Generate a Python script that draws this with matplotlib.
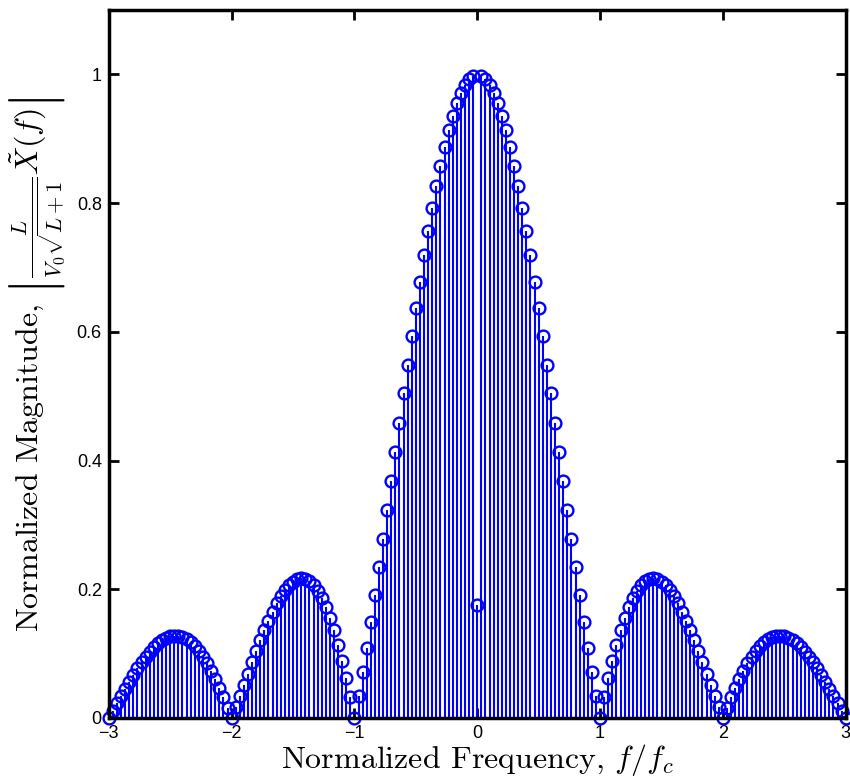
import numpy as np
import matplotlib
matplotlib.use("Agg")
import matplotlib.pyplot as plt

plt.rcParams['font.family'] = ['Liberation Sans', 'DejaVu Sans']
plt.rcParams['mathtext.fontset'] = 'cm'

# eje de frecuencia normalizada, muestras cada 1/30
freq = np.linspace(-3, 3, 181)

# magnitud normalizada de -3 a 0 (sin incluir 0)
mag_neg = [0.000, 0.011, 0.023, 0.034, 0.045, 0.056, 0.067, 0.077, 0.087, 0.095,
           0.103, 0.110, 0.116, 0.121, 0.125, 0.127, 0.128, 0.128, 0.126, 0.123,
           0.118, 0.112, 0.104, 0.095, 0.085, 0.073, 0.061, 0.047, 0.032, 0.016,
           0.000, 0.017, 0.034, 0.052, 0.069, 0.087, 0.104, 0.121, 0.136, 0.151,
           0.165, 0.178, 0.189, 0.199, 0.206, 0.212, 0.216, 0.217, 0.216, 0.213,
           0.207, 0.198, 0.187, 0.173, 0.156, 0.136, 0.114, 0.089, 0.062, 0.032,
           0.000, 0.034, 0.071, 0.109, 0.149, 0.191, 0.234, 0.278, 0.323, 0.368,
           0.413, 0.459, 0.505, 0.549, 0.594, 0.637, 0.678, 0.719, 0.757, 0.793,
           0.827, 0.858, 0.887, 0.913, 0.935, 0.955, 0.971, 0.984, 0.993, 0.998]
# muestra en f = 0
mag_cero = [0.175]
# magnitud de 0 a 3 (sin incluir 0)
mag_pos = [0.998, 0.993, 0.984, 0.971, 0.955, 0.935, 0.913, 0.887, 0.858, 0.827,
           0.793, 0.757, 0.719, 0.678, 0.637, 0.594, 0.549, 0.505, 0.459, 0.413,
           0.368, 0.323, 0.278, 0.234, 0.191, 0.149, 0.109, 0.071, 0.034, 0.000,
           0.032, 0.062, 0.089, 0.114, 0.136, 0.156, 0.173, 0.187, 0.198, 0.207,
           0.213, 0.216, 0.217, 0.216, 0.212, 0.206, 0.199, 0.189, 0.178, 0.165,
           0.151, 0.136, 0.121, 0.104, 0.087, 0.069, 0.052, 0.034, 0.017, 0.000,
           0.016, 0.032, 0.047, 0.061, 0.073, 0.085, 0.095, 0.104, 0.112, 0.118,
           0.123, 0.126, 0.128, 0.128, 0.127, 0.125, 0.121, 0.116, 0.110, 0.103,
           0.095, 0.087, 0.077, 0.067, 0.056, 0.045, 0.034, 0.023, 0.011, 0.000]

mag = np.array(mag_neg + mag_cero + mag_pos)

xticks = [-3, -2, -1, 0, 1, 2, 3]
xtick_labels = ['\u22123', '\u22122', '\u22121', '0', '1', '2', '3']
yticks = [0, 0.2, 0.4, 0.6, 0.8, 1]
ytick_labels = ['0', '0.2', '0.4', '0.6', '0.8', '1']

fig = plt.figure(figsize=(8.5, 7.84), dpi=100)
ax = fig.add_axes([0.128, 0.0842, 0.867, 0.903])

markers, stems, base = ax.stem(freq, mag, linefmt='b-', markerfmt='bo', basefmt='k-')
stems.set_linewidth(1.5)
markers.set_markerfacecolor('none')
markers.set_markersize(8.5)
markers.set_markeredgewidth(1.7)
markers.set_clip_on(False)
base.set_visible(False)

ax.set_xlim(-3, 3)
ax.set_ylim(0, 1.1)
ax.set_xticks(xticks)
ax.set_xticklabels(xtick_labels)
ax.set_yticks(yticks)
ax.set_yticklabels(ytick_labels)
ax.tick_params(direction='in', top=True, right=True, length=7, width=2,
               labelsize=13, pad=5)
for s in ax.spines.values():
    s.set_linewidth(2.5)
    s.set_zorder(5)

# etiquetas con fuente tipo LaTeX
ax.set_xlabel(r'Normalized Frequency, $f/f_c$', fontfamily='cmr10', fontsize=23, labelpad=0)
ax.set_ylabel(r'Normalized Magnitude, $\left|\frac{L}{V_0\sqrt{L+1}}\tilde{X}(f)\right|$',
              fontfamily='cmr10', fontsize=23, labelpad=6)

fig.savefig('out.png', dpi=100)
